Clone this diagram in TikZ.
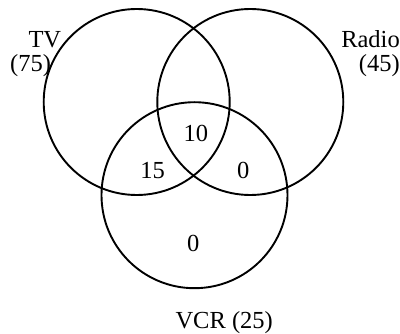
\documentclass[tikz,border=0pt]{standalone}
\usepackage{fontspec}
\setmainfont{Liberation Serif}
\begin{document}
\begin{tikzpicture}[x=1pt,y=-1pt,
  setcircle/.style={draw=black,line width=1.9pt},
  lbl/.style={inner sep=0pt,font=\fontsize{24.5}{28}\selectfont},
  ]
\useasboundingbox (0,0) rectangle (400,334);
\draw[setcircle] (136.7,102) circle[radius=93];
\draw[setcircle] (250.3,102) circle[radius=93];
\draw[setcircle] (194.5,195.2) circle[radius=93];
\node[lbl,anchor=base west] (tv) at (28.3,47.7) {TV};
\node[lbl,anchor=base west] (tvn) at (10,71.7) {(75)};
\node[lbl,anchor=base east] (radio) at (400,47.7) {Radio};
\node[lbl,anchor=base east] (radion) at (400,71.7) {(45)};
\node[lbl,anchor=base] (n10) at (195.8,141.7) {10};
\node[lbl,anchor=base] (n15) at (152.5,178.3) {15};
\node[lbl,anchor=base] (n0a) at (243.3,178.3) {0};
\node[lbl,anchor=base] (n0b) at (193.3,251.7) {0};
\node[lbl,anchor=base] (vcr) at (224.2,328.3) {VCR (25)};
\end{tikzpicture}
\end{document}
